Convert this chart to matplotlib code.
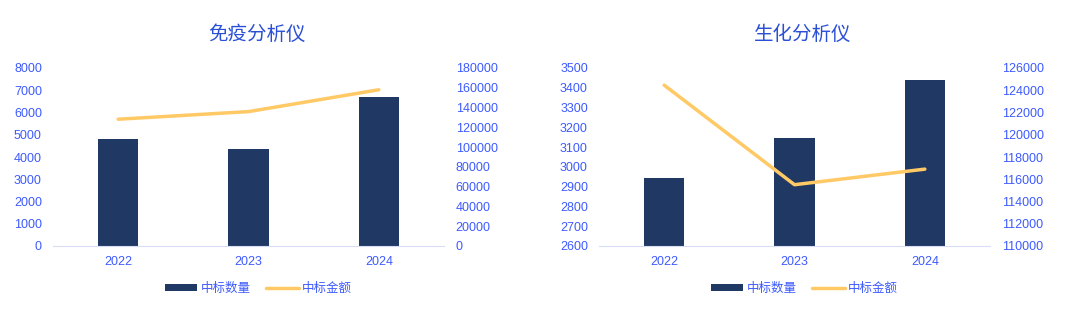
import matplotlib.pyplot as plt
import numpy as np

plt.rcParams['font.family'] = ['Liberation Sans', 'Noto Sans CJK SC', 'DejaVu Sans']

years = ['2022', '2023', '2024']

titles = ['免疫分析仪', '生化分析仪']
counts = [[4830, 4380, 6690], [2943, 3144, 3440]]
amounts = [[128200, 135900, 158000], [124460, 115510, 116910]]

left_ticks = [np.arange(0, 8001, 1000), np.arange(2600, 3501, 100)]
right_ticks = [np.arange(0, 180001, 20000), np.arange(110000, 126001, 2000)]

bar_color = '#203864'
line_color = '#ffc966'
text_color = '#3d5afe'
title_color = '#2a4fd6'

W, H = 1080, 310
fig = plt.figure(figsize=(10.8, 3.1), dpi=100)
lefts = [53, 599]
pw = 391

for i in range(2):
    ax = fig.add_axes([lefts[i] / W, (H - 246) / H, pw / W, 178 / H])
    ax2 = ax.twinx()
    x = np.arange(len(years))
    bars = ax.bar(x, counts[i], width=0.31, color=bar_color, label='中标数量', zorder=2)
    line, = ax2.plot(x, amounts[i], color=line_color, lw=2.5, label='中标金额',
                     solid_capstyle='round')
    ax.set_xlim(-0.5, 2.5)
    ax.set_ylim(left_ticks[i][0], left_ticks[i][-1])
    ax.set_yticks(left_ticks[i])
    ax2.set_ylim(right_ticks[i][0], right_ticks[i][-1])
    ax2.set_yticks(right_ticks[i])
    ax.set_xticks(x)
    ax.set_xticklabels(years)
    for a in (ax, ax2):
        for s in a.spines.values():
            s.set_visible(False)
        a.tick_params(length=0, colors=text_color, labelsize=9)
    ax.spines['bottom'].set_visible(True)
    ax.spines['bottom'].set_color('#d9dcf5')
    ax.tick_params(axis='y', pad=8)
    ax.tick_params(axis='x', pad=7)
    ax2.tick_params(axis='y', pad=8.5)

    cx = (lefts[i] + pw / 2 + 8) / W
    fig.text(cx, 1 - 34 / H, titles[i], color=title_color, fontsize=14,
             ha='center', va='center', family=['Noto Sans CJK SC', 'DejaVu Sans'])
    leg = fig.legend([bars, line], ['中标数量', '中标金额'], loc='center',
                     bbox_to_anchor=((lefts[i] + pw / 2 + 10) / W, 1 - 288 / H),
                     ncol=2, frameon=False,
                     prop={'family': ['Noto Sans CJK SC'], 'size': 9},
                     labelcolor=text_color, handlelength=2.6, handleheight=0.5,
                     columnspacing=1.2, handletextpad=0.3)

fig.savefig('out.png', dpi=100)
